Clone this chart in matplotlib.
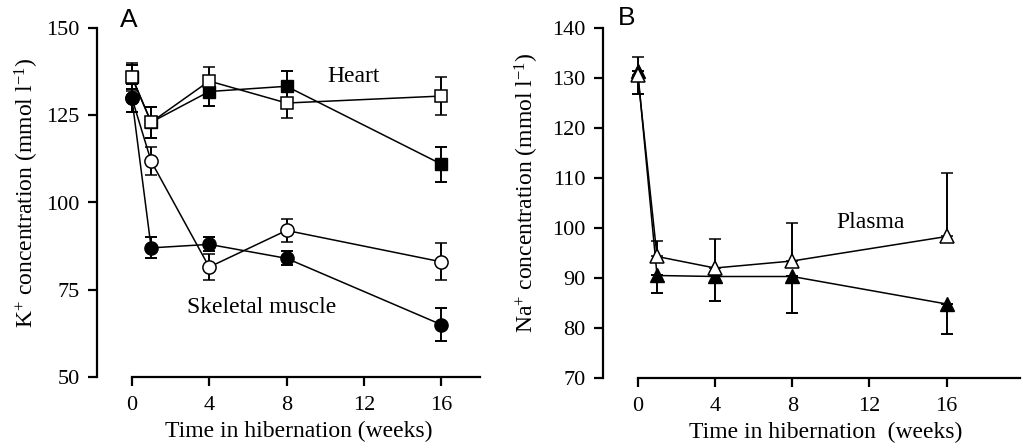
import matplotlib.pyplot as plt

plt.rcParams['font.family'] = 'Liberation Serif'
plt.rcParams['mathtext.fontset'] = 'custom'
plt.rcParams['mathtext.rm'] = 'Liberation Serif'
plt.rcParams['mathtext.it'] = 'Liberation Serif:italic'

weeks = [0, 1, 4, 8, 16]

# panel A: K+ (mmol l-1)
heart_open = [136, 123, 134.8, 128.5, 130.5]
heart_open_err = [4, 4.5, 4, 4.3, 5.5]
heart_filled = [136, 123, 131.8, 133.3, 111]
heart_filled_err = [3.5, 4.5, 4.2, 4.5, 5]
muscle_open = [130, 111.8, 81.5, 92, 83]
muscle_open_err = [4, 4, 3.8, 3.4, 5.3]
muscle_filled = [130, 87, 88, 84, 65]
muscle_filled_err = [4, 3, 2, 2, 4.7]

# panel B: Na+ (mmol l-1), one-sided errors
plasma_open = [130.6, 94.3, 92, 93.4, 98.3]
plasma_open_up = [3.5, 3, 5.8, 7.6, 12.7]
plasma_filled = [131.3, 90.5, 90.3, 90.3, 84.8]
plasma_filled_down = [4.6, 3.6, 5, 7.4, 5.9]

fig = plt.figure(figsize=(10.23, 4.48), dpi=100)
axA = fig.add_axes([97/1023, 71/448, 383/1023, 349/448])
axB = fig.add_axes([603/1023, 70/448, 417/1023, 350/448])

ebkw = dict(color='black', lw=1.1, elinewidth=1.4, capsize=4.5, capthick=1.4,
            clip_on=False)

# skeletal muscle
axA.errorbar(weeks, muscle_open, yerr=muscle_open_err, marker='o', ms=9.5,
             mfc='white', mec='black', mew=1.1, zorder=3, **ebkw)
axA.errorbar(weeks, muscle_filled, yerr=muscle_filled_err, marker='o', ms=9.5,
             mfc='black', mec='black', zorder=4, **ebkw)
# heart
axA.errorbar(weeks, heart_filled, yerr=heart_filled_err, marker='s', ms=8.5,
             mfc='black', mec='black', zorder=5, **ebkw)
axA.errorbar(weeks, heart_open, yerr=heart_open_err, marker='s', ms=8.5,
             mfc='white', mec='black', mew=1.1, zorder=6, **ebkw)

axA.set_xlim(-1.8, 18)
axA.set_ylim(50, 150)
axA.set_xticks([0, 4, 8, 12, 16])
axA.set_yticks([50, 75, 100, 125, 150])
axA.spines['bottom'].set_bounds(0, 18)
axA.text(10.1, 136, 'Heart', fontsize=17, va='center')
axA.text(2.85, 70, 'Skeletal muscle', fontsize=17, va='center')
axA.set_ylabel('K$^{+}$ concentration (mmol l$^{-1}$)', fontsize=17)
axA.set_xlabel('Time in hibernation (weeks)', fontsize=17)
axA.yaxis.set_label_coords(-0.147, 0.527)
axA.xaxis.set_label_coords(0.527, -0.125)

# plasma
axB.errorbar(weeks, plasma_filled, yerr=[plasma_filled_down, [0]*5], marker='^',
             ms=9.5, mfc='black', mec='black', zorder=4, **ebkw)
axB.errorbar(weeks, plasma_open, yerr=[[0]*5, plasma_open_up], marker='^',
             ms=9.5, mfc='white', mec='black', mew=1.1, zorder=5, **ebkw)

axB.set_xlim(-1.8, 19.8)
axB.set_ylim(70, 140)
axB.set_xticks([0, 4, 8, 12, 16])
axB.set_yticks(range(70, 141, 10))
axB.spines['bottom'].set_bounds(0, 19.8)
axB.text(10.3, 101, 'Plasma', fontsize=17, va='center')
axB.set_ylabel('Na$^{+}$ concentration (mmol l$^{-1}$)', fontsize=17)
axB.set_xlabel('Time in hibernation  (weeks)', fontsize=17)
axB.yaxis.set_label_coords(-0.148, 0.529)
axB.xaxis.set_label_coords(0.535, -0.125)

for ax in (axA, axB):
    ax.spines['top'].set_visible(False)
    ax.spines['right'].set_visible(False)
    ax.spines['left'].set_linewidth(1.6)
    ax.spines['bottom'].set_linewidth(1.6)
    ax.tick_params(direction='out', length=6.5, width=1.6, labelsize=16)
    ax.tick_params(axis='x', pad=7)
    ax.tick_params(axis='y', pad=6)
axA.spines['left'].set_bounds(50, 150)
axB.spines['left'].set_bounds(70, 140)

fig.text(120/1023, 1 - 20/448, 'A', fontsize=19, family='Liberation Sans', va='center')
fig.text(618/1023, 1 - 18/448, 'B', fontsize=19, family='Liberation Sans', va='center')

plt.savefig('out.png', dpi=100)
